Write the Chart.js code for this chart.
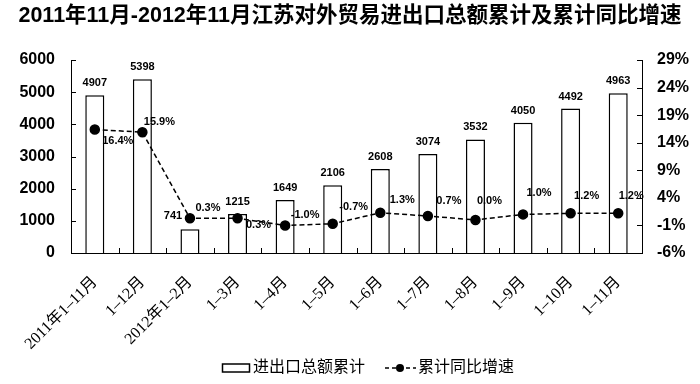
<!DOCTYPE html>
<html>
<head>
<meta charset="utf-8">
<script src="https://cdn.jsdelivr.net/npm/chart.js@4"></script>
<style>
html,body{margin:0;padding:0;background:#fff;}
#wrap{width:700px;height:384px;position:relative;}
</style>
</head>
<body>
<div id="wrap"><canvas id="c" width="700" height="384"></canvas></div>
<script>
const titleText = '2011年11月-2012年11月江苏对外贸易进出口总额累计及累计同比增速';
const categories = ['2011年1–11月','1–12月','2012年1–2月','1–3月','1–4月','1–5月','1–6月','1–7月','1–8月','1–9月','1–10月','1–11月'];
const totalValues = [4907, 5398, 741, 1215, 1649, 2106, 2608, 3074, 3532, 4050, 4492, 4963];
const growthValues = [16.4, 15.9, 0.3, 0.3, -1.0, -0.7, 1.3, 0.7, 0.0, 1.0, 1.2, 1.2];
const leftTicks = [0, 1000, 2000, 3000, 4000, 5000, 6000];
const rightTicks = [-6, -1, 4, 9, 14, 19, 24, 29];
const seriesNames = ['进出口总额累计', '累计同比增速'];

// label offsets (style only)
const barLabelOffsets = totalValues.map((v, i) => i === 2 ? [-17, 0] : [0, -12]);
const pctLabelOffsets = [[23,11],[17,-10],[18,-10],[21,7],[20,-10],[21,-17],[22,-13],[21,-15],[14,-19],[16,-21],[16,-17],[13,-17]];

const SANS = "'Liberation Sans', 'Noto Sans CJK SC', sans-serif";
const SERIF = "'Liberation Serif', 'Noto Sans CJK SC', serif";

const customDraw = {
  id: 'customDraw',
  afterDraw(chart) {
    const ctx = chart.ctx;
    const area = chart.chartArea;
    const y = chart.scales.y, y1 = chart.scales.y1;
    ctx.save();
    // inward ticks
    ctx.strokeStyle = '#000';
    ctx.lineWidth = 1;
    ctx.beginPath();
    leftTicks.forEach(t => {
      const py = Math.round(y.getPixelForValue(t)) + 0.5;
      ctx.moveTo(area.left, py); ctx.lineTo(area.left + 5, py);
    });
    rightTicks.forEach(t => {
      const py = Math.round(y1.getPixelForValue(t)) + 0.5;
      ctx.moveTo(area.right, py); ctx.lineTo(area.right - 5, py);
    });
    const n = categories.length;
    const cw = (area.right - area.left) / n;
    for (let i = 1; i < n; i++) {
      const px = Math.round(area.left + i * cw) + 0.5;
      ctx.moveTo(px, area.bottom); ctx.lineTo(px, area.bottom - 5);
    }
    ctx.stroke();

    // bar labels
    const barMeta = chart.getDatasetMeta(1);
    ctx.fillStyle = '#000';
    ctx.textAlign = 'center';
    ctx.textBaseline = 'middle';
    ctx.font = 'bold 11px ' + SANS;
    barMeta.data.forEach((el, i) => {
      const off = barLabelOffsets[i];
      const yy = i === 2 ? chart.getDatasetMeta(0).data[i].y + off[1] - 2 : el.y + off[1];
      ctx.fillText(String(totalValues[i]), el.x + off[0], yy);
    });
    // pct labels
    const lineMeta = chart.getDatasetMeta(0);
    ctx.font = 'bold 11px ' + SANS;
    lineMeta.data.forEach((el, i) => {
      const off = pctLabelOffsets[i];
      ctx.fillText(growthValues[i].toFixed(1) + '%', el.x + off[0], el.y + off[1]);
    });

    // title
    ctx.font = 'bold 21.5px ' + SANS;
    ctx.fillText(titleText, 350, 16);

    // legend
    const ly = 368;
    ctx.lineWidth = 1.5;
    ctx.strokeStyle = '#000';
    ctx.fillStyle = '#fff';
    ctx.fillRect(222, ly - 4, 28, 8);
    ctx.strokeRect(222.5, ly - 4, 27, 8);
    ctx.fillStyle = '#000';
    ctx.textAlign = 'left';
    ctx.font = '16px ' + SANS;
    ctx.fillText(seriesNames[0], 253, ly);
    ctx.setLineDash([4, 3]);
    ctx.beginPath();
    ctx.moveTo(385, ly); ctx.lineTo(416, ly);
    ctx.stroke();
    ctx.setLineDash([]);
    ctx.beginPath();
    ctx.arc(400, ly, 4, 0, Math.PI * 2);
    ctx.fill();
    ctx.fillText(seriesNames[1], 418, ly);
    ctx.restore();
  }
};

new Chart(document.getElementById('c'), {
  data: {
    labels: categories,
    datasets: [
      {
        type: 'line',
        label: seriesNames[1],
        data: growthValues,
        yAxisID: 'y1',
        borderColor: '#000',
        backgroundColor: '#000',
        borderWidth: 1.5,
        borderDash: [5, 3],
        pointRadius: 4.5,
        pointBackgroundColor: '#000',
        pointBorderColor: '#000',
        tension: 0,
        order: 0
      },
      {
        type: 'bar',
        label: seriesNames[0],
        data: totalValues,
        yAxisID: 'y',
        backgroundColor: '#fff',
        borderColor: '#000',
        borderWidth: 1.5,
        barPercentage: 0.4,
        categoryPercentage: 1.0,
        order: 1
      }
    ]
  },
  options: {
    responsive: false,
    animation: false,
    layout: { padding: { top: 60, bottom: 0, left: 0, right: 0 } },
    plugins: { legend: { display: false }, title: { display: false }, tooltip: { enabled: false } },
    scales: {
      x: {
        offset: true,
        grid: { display: false, drawTicks: false },
        border: { display: true, color: '#000', width: 1 },
        ticks: {
          autoSkip: false, minRotation: 45, maxRotation: 45, padding: 20,
          color: '#000', font: { family: SERIF, size: 16 }
        },
        afterFit(s) { s.height = 131; }
      },
      y: {
        position: 'left',
        min: 0, max: 6000,
        afterBuildTicks(s) { s.ticks = leftTicks.map(v => ({ value: v })); },
        grid: { display: false, drawTicks: false },
        border: { display: true, color: '#000', width: 1 },
        ticks: { padding: 16, color: '#000', font: { family: SANS, size: 16, weight: 'bold' }, callback: v => String(v) },
        afterFit(s) { s.width = 71; }
      },
      y1: {
        position: 'right',
        min: -6, max: 29,
        afterBuildTicks(s) { s.ticks = rightTicks.map(v => ({ value: v })); },
        grid: { display: false, drawTicks: false },
        border: { display: true, color: '#000', width: 1 },
        ticks: { padding: 15, color: '#000', font: { family: SANS, size: 16, weight: 'bold' }, callback: v => v + '%' },
        afterFit(s) { s.width = 58; }
      }
    }
  },
  plugins: [customDraw]
});
</script>
</body>
</html>
